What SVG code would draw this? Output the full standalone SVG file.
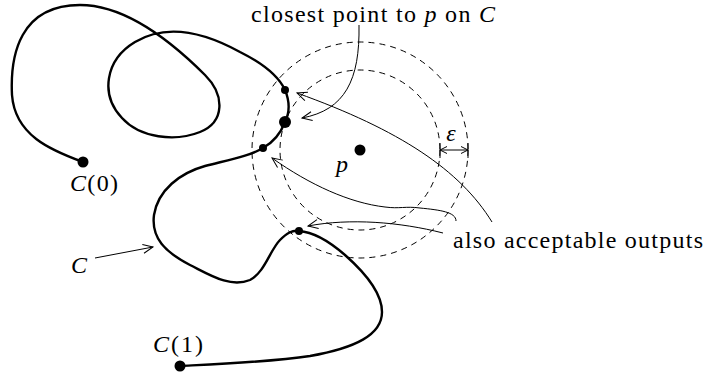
<svg xmlns="http://www.w3.org/2000/svg" width="708" height="375" viewBox="0 0 708 375">
<defs>
<style>
.curve{fill:none;stroke:#000;stroke-width:2.4;stroke-linecap:round;stroke-linejoin:round}
.circ{fill:none;stroke:#000;stroke-width:1;stroke-dasharray:6 5}
.arr{fill:none;stroke:#000;stroke-width:1;marker-end:url(#ah)}
.thin{fill:none;stroke:#000;stroke-width:1}
.dot{fill:#000}
.lbl{font-family:'Liberation Serif','DejaVu Serif',serif;font-size:24px;fill:#000}
.it{font-style:italic}
</style>
<marker id="ah" markerUnits="userSpaceOnUse" markerWidth="14" markerHeight="12" viewBox="-11 -6 12 12" refX="0" refY="0" orient="auto">
<path d="M-10,-4.5 L0,0 L-10,4.5" fill="none" stroke="#000" stroke-width="1"/>
</marker>
<marker id="ahs" markerUnits="userSpaceOnUse" markerWidth="14" markerHeight="12" viewBox="-11 -6 12 12" refX="0" refY="0" orient="auto-start-reverse">
<path d="M-7,-3.5 L0,0 L-7,3.5" fill="none" stroke="#000" stroke-width="1"/>
</marker>
</defs>
<g id="circles">
<circle class="circ" cx="360" cy="150" r="80"/>
<circle class="circ" cx="360" cy="150" r="108"/>
</g>
<g id="curve">
<path class="curve" d="M83,162 C50,150 15,135 12,95 C10,55 20,5 80,5 C125,5 170,40 205,75 C225,95 225,122 200,132 C175,142 140,138 122,118 C100,95 105,60 135,42 C165,24 200,30 240,52 C260,62 278,75 285,90 C290,102 290,112 285,122 C280,135 272,143 263,148 C250,156 228,160 205,166 C180,173 158,190 154,215 C151,238 165,252 190,265 C210,275 230,288 250,280 C265,272 270,250 280,240 C287,233 292,230 299,231 C315,232 330,242 345,255 C362,270 382,292 382,312 C382,335 355,348 310,356 C270,362 220,364 180,366"/>
</g>
<g id="points">
<circle class="dot" cx="83" cy="162" r="5.5"/>
<circle class="dot" cx="180" cy="366" r="5.5"/>
<circle class="dot" cx="360" cy="150" r="5.5"/>
<circle class="dot" cx="285" cy="122" r="6"/>
<circle class="dot" cx="285" cy="90" r="4"/>
<circle class="dot" cx="263" cy="148" r="4"/>
<circle class="dot" cx="299" cy="231" r="4"/>
</g>
<g id="connectors">
<path class="arr" d="M359,25 C360,80 345,110 302,118"/>
<path class="arr" d="M492,222 C460,170 400,130 297,93"/>
<path class="arr" d="M456,221 C456,212 440,210 420,208 C405,206 400,209 385,207 C350,203 310,185 272,158"/>
<path class="arr" d="M443,233 C400,222 350,218 308,226"/>
<path class="arr" d="M95,258 L153,247"/>
<path class="thin" d="M440,150 L468,150" marker-start="url(#ahs)" marker-end="url(#ahs)"/>
<path class="thin" d="M440,143 L440,158 M468,143 L468,158"/>
</g>
<g id="labels">
<text class="lbl" x="251" y="22" textLength="244"><tspan>closest point to </tspan><tspan class="it">p</tspan><tspan> on </tspan><tspan class="it">C</tspan></text>
<text class="lbl" x="453" y="248" textLength="250">also acceptable outputs</text>
<text class="lbl" x="70" y="191" textLength="48"><tspan class="it">C</tspan>(0)</text>
<text class="lbl" x="153" y="352" textLength="50"><tspan class="it">C</tspan>(1)</text>
<text class="lbl it" x="71" y="273">C</text>
<text class="lbl it" x="336" y="172">p</text>
<text class="lbl it" x="451" y="141" text-anchor="middle">ε</text>
</g>
</svg>
